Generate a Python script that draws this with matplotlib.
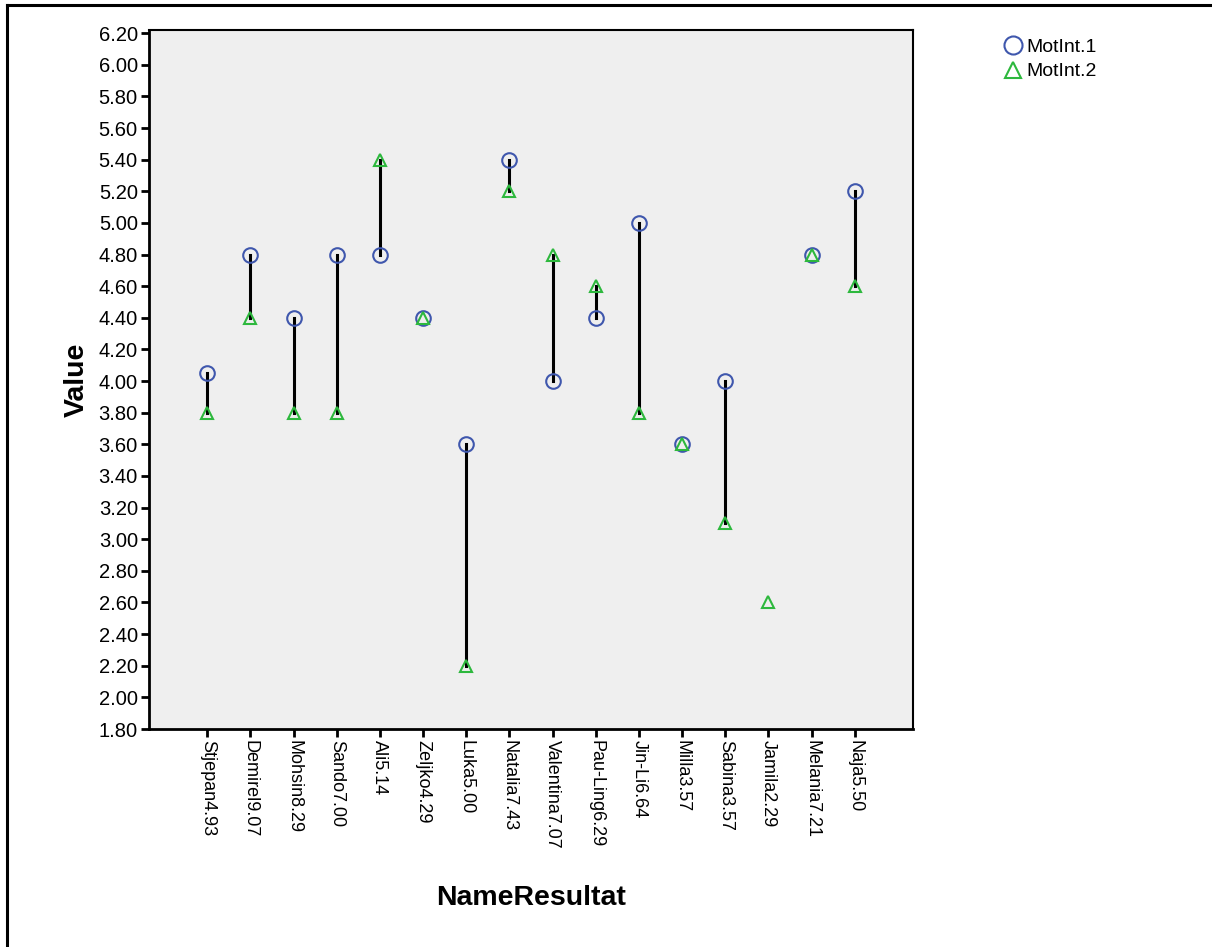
import numpy as np
import matplotlib
matplotlib.use('Agg')
import matplotlib.pyplot as plt
from matplotlib.lines import Line2D

plt.rcParams['font.family'] = ['Liberation Sans', 'DejaVu Sans']

names = ['Stjepan4.93', 'Demirel9.07', 'Mohsin8.29', 'Sando7.00', 'Ali5.14',
         'Zeljko4.29', 'Luka5.00', 'Natalia7.43', 'Valentina7.07', 'Pau-Ling6.29',
         'Jin-Li6.64', 'Milla3.57', 'Sabina3.57', 'Jamila2.29', 'Melania7.21',
         'Naja5.50']
motint1 = [4.05, 4.80, 4.40, 4.80, 4.80, 4.40, 3.60, 5.40, 4.00, 4.40,
           5.00, 3.60, 4.00, np.nan, 4.80, 5.20]
motint2 = [3.80, 4.40, 3.80, 3.80, 5.40, 4.40, 2.20, 5.20, 4.80, 4.60,
           3.80, 3.60, 3.10, 2.60, 4.80, 4.60]
yticks = np.arange(1.8, 6.21, 0.2)

blue = '#3F57AD'
green = '#2DB83D'

fig = plt.figure(figsize=(12.12, 9.47), dpi=100)
ax = fig.add_axes([0.1229, 0.2302, 0.6304, 0.7381])
ax.set_facecolor('#EFEFEF')

x = np.arange(len(names))
for i in x:
    if not np.isnan(motint1[i]):
        ax.plot([i, i], [motint1[i], motint2[i]], color='black', lw=2.2, zorder=2)

ax.plot(x, motint1, 'o', ms=10.5, mfc='none', mec=blue, mew=1.5, zorder=3)
ax.plot(x, motint2, '^', ms=9, mfc='none', mec=green, mew=1.5, zorder=3)

ax.set_xlim(-1.35, len(names) - 1 + 1.35)
ax.set_ylim(1.80, 6.22)
ax.set_yticks(yticks)
ax.set_yticklabels(['%.2f' % v for v in yticks], fontsize=14.5)
ax.set_xticks(x)
ax.set_xticklabels(names, rotation=270, fontsize=13, va='top', ha='center')
ax.tick_params(axis='both', direction='out', length=6, width=2, color='black', pad=2)

for s in ax.spines.values():
    s.set_color('black')
    s.set_linewidth(1.5)
ax.spines['left'].set_linewidth(2)
ax.spines['bottom'].set_linewidth(2)

ax.set_ylabel('Value', fontsize=20.5, fontweight='bold', labelpad=6)
ax.set_xlabel('NameResultat', fontsize=20.5, fontweight='bold', labelpad=26)

handles = [Line2D([], [], ls='none', marker='o', ms=13, mfc='none', mec=blue, mew=1.5),
           Line2D([], [], ls='none', marker='^', ms=11, mfc='none', mec=green, mew=1.5)]
fig.legend(handles, ['MotInt.1', 'MotInt.2'], loc='upper left',
           bbox_to_anchor=(0.812, 0.978), frameon=False, fontsize=14,
           handletextpad=0.05, labelspacing=0.35, handlelength=1.2)

# outer frame (top and left edges)
fig.add_artist(Line2D([0.006, 1.0], [0.9945, 0.9945], color='black', lw=2.2,
                      transform=fig.transFigure))
fig.add_artist(Line2D([0.006, 0.006], [0.0, 0.9945], color='black', lw=2.2,
                      transform=fig.transFigure))

fig.savefig('out.png', dpi=100)
